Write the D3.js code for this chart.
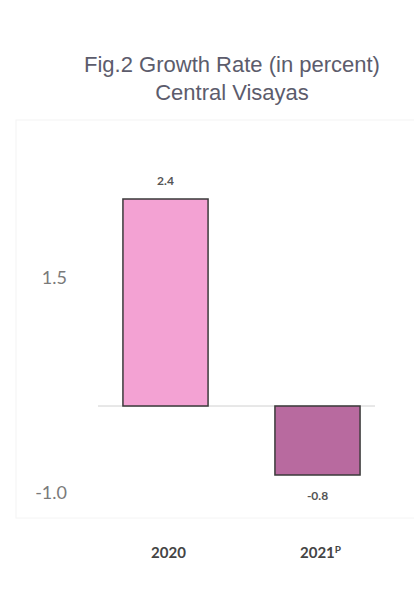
<!DOCTYPE html>
<html><head><meta charset="utf-8">
<script src="https://cdn.jsdelivr.net/npm/d3@7"></script>
<style>html,body{margin:0;padding:0;background:#fff;}</style>
</head><body>
<script>
const categories = ["2020", "2021"];
const categorySuperscripts = ["", "P"];
const values = [2.4, -0.8];
const valueLabels = ["2.4", "-0.8"];
const tickValues = [1.5, -1.0];
const tickLabels = ["1.5", "-1.0"];
const colors = ["#f3a2d3", "#b86a9f"];

const W = 414, H = 611;
const svg = d3.select("body").append("svg").attr("width", W).attr("height", H);

// faint frame
svg.append("rect").attr("x", 16).attr("y", 120).attr("width", 420).attr("height", 398)
  .attr("fill", "none").attr("stroke", "#f4f4f4").attr("stroke-width", 1);

svg.append("text").attr("x", 232).attr("y", 72).attr("text-anchor", "middle")
  .attr("font-family", "Liberation Sans, Arial, sans-serif").attr("font-size", 22)
  .attr("fill", "#5c5c6c").text("Fig.2 Growth Rate (in percent)");
svg.append("text").attr("x", 232).attr("y", 100).attr("text-anchor", "middle")
  .attr("font-family", "Liberation Sans, Arial, sans-serif").attr("font-size", 22)
  .attr("fill", "#5c5c6c").text("Central Visayas");

const x = d3.scaleBand().domain(categories).range([89.5, 393.5]).paddingInner(0.44).paddingOuter(0.22);
const y = d3.scaleLinear().domain([-0.8, 2.4]).range([475, 199]);

// zero line
svg.append("line").attr("x1", 98).attr("x2", 375).attr("y1", y(0)).attr("y2", y(0))
  .attr("stroke", "#d0d0d0").attr("stroke-width", 1);

// y tick labels
svg.selectAll(".tick").data(tickValues).join("text")
  .attr("x", 67).attr("y", d => y(d) + 7).attr("text-anchor", "end")
  .attr("font-family", "Lato, 'Open Sans', sans-serif").attr("font-size", 18)
  .attr("fill", "#7a7a7a").text((d, i) => tickLabels[i]);

// bars
svg.selectAll(".bar").data(values).join("rect")
  .attr("x", (d, i) => x(categories[i]))
  .attr("width", x.bandwidth())
  .attr("y", d => y(Math.max(0, d)))
  .attr("height", d => Math.abs(y(d) - y(0)))
  .attr("fill", (d, i) => colors[i])
  .attr("stroke", "#3a3a3a").attr("stroke-width", 1.5);

// value labels
svg.selectAll(".vl").data(values).join("text")
  .attr("x", (d, i) => x(categories[i]) + x.bandwidth() / 2)
  .attr("y", d => d >= 0 ? y(d) - 14 : y(d) + 25)
  .attr("text-anchor", "middle")
  .attr("font-family", "Lato, 'Open Sans', sans-serif").attr("font-weight", "bold").attr("font-size", 12)
  .attr("fill", "#555").text((d, i) => valueLabels[i]);

// category labels
const cl = svg.selectAll(".cl").data(categories).join("text")
  .attr("x", (d, i) => x(d) + x.bandwidth() / 2 + 3)
  .attr("y", 558).attr("text-anchor", "middle")
  .attr("font-family", "Lato, 'Open Sans', sans-serif").attr("font-weight", "bold").attr("font-size", 15)
  .attr("fill", "#444");
cl.append("tspan").text(d => d);
cl.append("tspan").attr("font-size", 10).attr("dy", -5).text((d, i) => categorySuperscripts[i]);
</script>
</body></html>
